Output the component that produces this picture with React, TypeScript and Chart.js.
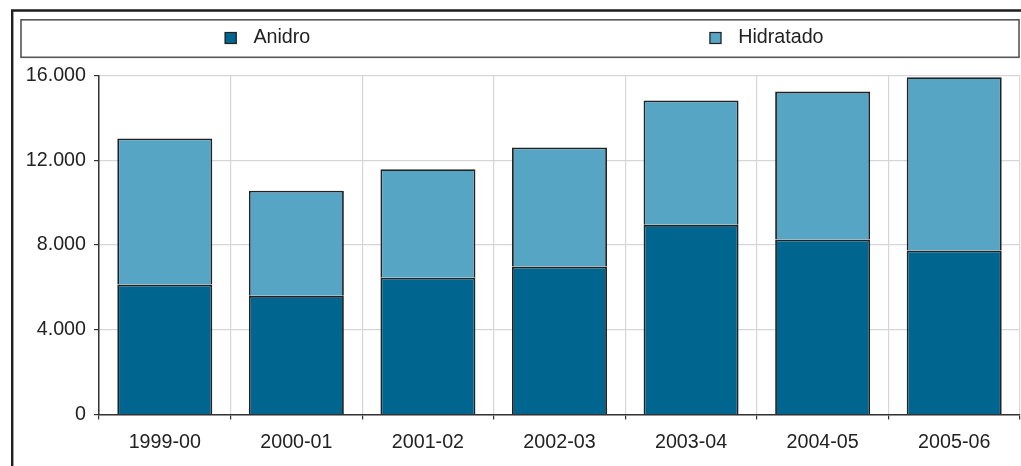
import React, { useEffect, useRef } from "react";
import { Chart, registerables } from "chart.js";

Chart.register(...registerables);

const categories = ["1999-00", "2000-01", "2001-02", "2002-03", "2003-04", "2004-05", "2005-06"];
const anidro = [6130, 5600, 6460, 6980, 8950, 8260, 7740];
const hidratado = [6900, 4960, 5120, 5620, 5870, 6980, 8180];
const seriesNames = ["Anidro", "Hidratado"];
const yTicks = [0, 4000, 8000, 12000, 16000];

const W = 1021;
const H = 466;
const FONT = "'Liberation Sans', Arial, sans-serif";
const FS = 19.7;

const fmt = (v: number) => {
  const s = Math.round(v).toString();
  return s.replace(/\B(?=(\d{3})+(?!\d))/g, ".");
};

const framePlugin = {
  id: "frameLegend",
  afterDraw(chart: any) {
    const ctx = chart.ctx;
    ctx.save();
    // outer frame (top and left edges visible)
    ctx.strokeStyle = "#1e1e1e";
    ctx.lineWidth = 2.4;
    ctx.beginPath();
    ctx.moveTo(12.2, H + 5);
    ctx.lineTo(12.2, 10.5);
    ctx.lineTo(W + 5, 10.5);
    ctx.stroke();
    // legend box
    const bx = 21, by = 19.8, bw = 998, bh = 37.5;
    ctx.strokeStyle = "#555";
    ctx.lineWidth = 1.6;
    ctx.strokeRect(bx, by, bw, bh);
    // legend items, each centred in its share of the box
    ctx.font = `${FS}px ${FONT}`;
    ctx.textBaseline = "alphabetic";
    ctx.textAlign = "left";
    const ds = chart.data.datasets;
    const slot = bw / ds.length;
    const box = 12;
    const gap = 16.7;
    ds.forEach((d: any, i: number) => {
      const tw = ctx.measureText(d.label).width;
      const iw = box + gap + tw;
      const x0 = bx + slot * i + (slot - iw) / 2 - 3;
      const sy = 32;
      ctx.fillStyle = d.backgroundColor;
      ctx.fillRect(x0, sy, box, box);
      ctx.strokeStyle = "#222";
      ctx.lineWidth = 1.2;
      ctx.strokeRect(x0 + 0.5, sy + 0.5, box - 1, box - 1);
      ctx.fillStyle = "#222";
      ctx.fillText(d.label, x0 + box + gap, 43.3);
    });
    ctx.restore();
  },
};

export default function App() {
  const ref = useRef<HTMLCanvasElement | null>(null);

  useEffect(() => {
    if (!ref.current) return;
    const chart = new Chart(ref.current, {
      type: "bar",
      data: {
        labels: categories,
        datasets: [
          {
            label: seriesNames[0],
            data: anidro,
            backgroundColor: "#00668f",
            borderColor: "#222",
            borderWidth: 1.8,
            barPercentage: 0.722,
            categoryPercentage: 1,
          },
          {
            label: seriesNames[1],
            data: hidratado,
            backgroundColor: "#57a5c5",
            borderColor: "#222",
            borderWidth: 1.8,
            barPercentage: 0.722,
            categoryPercentage: 1,
          },
        ],
      },
      options: {
        responsive: false,
        animation: false,
        devicePixelRatio: 1,
        layout: { padding: { top: 75.5, left: 0, right: 1, bottom: 0 } },
        plugins: {
          legend: { display: false },
          tooltip: { enabled: false },
          title: { display: false },
        },
        scales: {
          x: {
            stacked: true,
            grid: {
              color: "#d6d6d6",
              lineWidth: 1.2,
              offset: true,
              drawTicks: true,
              tickLength: 5,
              tickColor: "#333",
            },
            border: { color: "#333", width: 1.5 },
            ticks: {
              color: "#222",
              font: { family: FONT, size: FS },
              padding: 11,
              maxRotation: 0,
            },
            afterFit: (s: any) => {
              s.height = 51.5;
            },
          },
          y: {
            stacked: true,
            min: 0,
            max: 16000,
            afterBuildTicks: (s: any) => {
              s.ticks = yTicks.map((v) => ({ value: v }));
            },
            grid: {
              color: "#d6d6d6",
              lineWidth: 1.2,
              drawTicks: true,
              tickLength: 5,
              tickColor: "#333",
            },
            border: { color: "#333", width: 1.5 },
            ticks: {
              color: "#222",
              font: { family: FONT, size: FS },
              padding: 8,
              callback: (v: any) => fmt(Number(v)),
            },
            afterFit: (s: any) => {
              s.width = 99;
            },
          },
        },
      },
      plugins: [framePlugin],
    });
    return () => chart.destroy();
  }, []);

  return (
    <div style={{ position: "absolute", left: 0, top: 0, width: W, height: H, background: "#fff" }}>
      <canvas ref={ref} width={W} height={H} style={{ display: "block", width: W, height: H }} />
    </div>
  );
}
